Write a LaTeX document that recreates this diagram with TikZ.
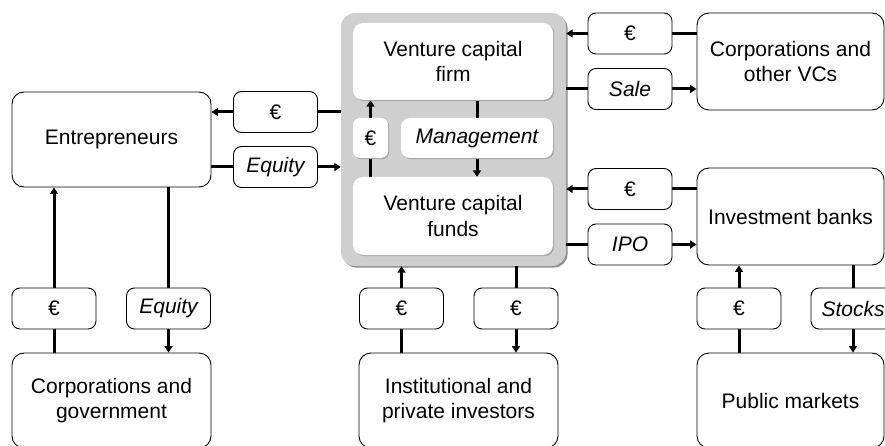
\documentclass[tikz,border=0pt]{standalone}
\usepackage{fontspec}
\setmainfont{Liberation Sans}
\usetikzlibrary{arrows.meta,shadows}
\pgfdeclarelayer{bg}
\pgfdeclarelayer{lines}
\pgfsetlayers{bg,lines,main}
\begin{document}
\begin{tikzpicture}[x=1pt,y=-1pt,
  txt/.style={font=\fontsize{21}{25.5}\selectfont, align=center, inner sep=0pt},
  bigbox/.style={txt, draw=black, line width=0.9pt, fill=white, rounded corners=12pt, minimum width=#1},
  bigbox/.default=199pt,
  lab/.style={txt, draw=black, line width=0.9pt, fill=white, rounded corners=8pt, minimum width=84pt, minimum height=41pt},
  inner/.style={txt, fill=white, rounded corners=10pt, drop shadow={shadow xshift=1.2pt, shadow yshift=-1.2pt, fill=black!35, opacity=1}},
  grayframe/.style={fill=black!19, rounded corners=14pt, minimum width=225pt, minimum height=253pt, inner sep=0pt,
     drop shadow={shadow xshift=1.6pt, shadow yshift=-1.6pt, fill=black!45, opacity=1}},
  arr/.style={line width=3pt, -{Triangle[length=6.5pt,width=8pt]}}
]
\useasboundingbox (0,0) rectangle (885,446);
\clip (0,0) rectangle (885,446);

\begin{pgfonlayer}{bg}
  \node[grayframe] (gray) at (453.5,139.5) {};
\end{pgfonlayer}

% main boxes
\node[bigbox, minimum height=95pt] (entre) at (111.5,139.5) {Entrepreneurs};
\node[bigbox, minimum height=95pt] (corpgov) at (111.5,400.5) {Corporations and\\government};
\node[bigbox, minimum height=95pt] (inst) at (458.5,400.5) {Institutional and\\private investors};
\node[bigbox=187pt, minimum height=97pt] (corpvc) at (790.5,61.5) {Corporations and\\other VCs};
\node[bigbox=187pt, minimum height=97pt] (invb) at (790.5,216.5) {Investment banks};
\node[bigbox=187pt, minimum height=95pt] (pub) at (790.5,400.5) {Public markets};

% inner boxes
\node[inner, minimum width=200pt, minimum height=77pt] (firm) at (453,61.5) {Venture capital\\firm};
\node[inner, minimum width=200pt, minimum height=78pt] (funds) at (453,216) {Venture capital\\funds};
\node[inner, rounded corners=7pt, minimum width=35pt, minimum height=40pt] (ieur) at (370.5,138) {€};
\node[inner, rounded corners=9pt, minimum width=152pt, minimum height=40pt] (mgmt) at (477,138) {\itshape Management};

% label boxes
\node[lab] (le1) at (275.5,112) {€};
\node[lab] (leq) at (275.5,167) {\itshape Equity};
\node[lab] (re1) at (630,33.5) {€};
\node[lab] (sale) at (630,89) {\itshape Sale};
\node[lab] (re2) at (630,189) {€};
\node[lab] (ipo) at (630,244.5) {\itshape IPO};
\node[lab] (be1) at (54,308.5) {€};
\node[lab] (beq) at (168.5,308.5) {\itshape Equity};
\node[lab] (bi1) at (401.5,308.5) {€};
\node[lab] (bi2) at (516,308.5) {€};
\node[lab] (bp1) at (739,308.5) {€};
\node[lab] (stk) at (853,308.5) {\itshape Stocks};

\begin{pgfonlayer}{lines}
  \draw[arr] (gray.west |- le1) -- (entre.east |- le1);
  \draw[arr] (entre.east |- leq) -- (gray.west |- leq);
  \draw[arr] (corpvc.west |- re1) -- (gray.east |- re1);
  \draw[arr] (gray.east |- sale) -- (corpvc.west |- sale);
  \draw[arr] (invb.west |- re2) -- (gray.east |- re2);
  \draw[arr] (gray.east |- ipo) -- (invb.west |- ipo);
  \draw[arr] (corpgov.north -| be1) -- (entre.south -| be1);
  \draw[arr] (entre.south -| beq) -- (corpgov.north -| beq);
  \draw[arr] (inst.north -| bi1) -- (gray.south -| bi1);
  \draw[arr] (gray.south -| bi2) -- (inst.north -| bi2);
  \draw[arr] (pub.north -| bp1) -- (invb.south -| bp1);
  \draw[arr] (invb.south -| stk) -- (pub.north -| stk);
  \draw[arr] (funds.north -| ieur) -- (firm.south -| ieur);
  \draw[arr] (firm.south -| mgmt) -- (funds.north -| mgmt);
\end{pgfonlayer}
\end{tikzpicture}
\end{document}
